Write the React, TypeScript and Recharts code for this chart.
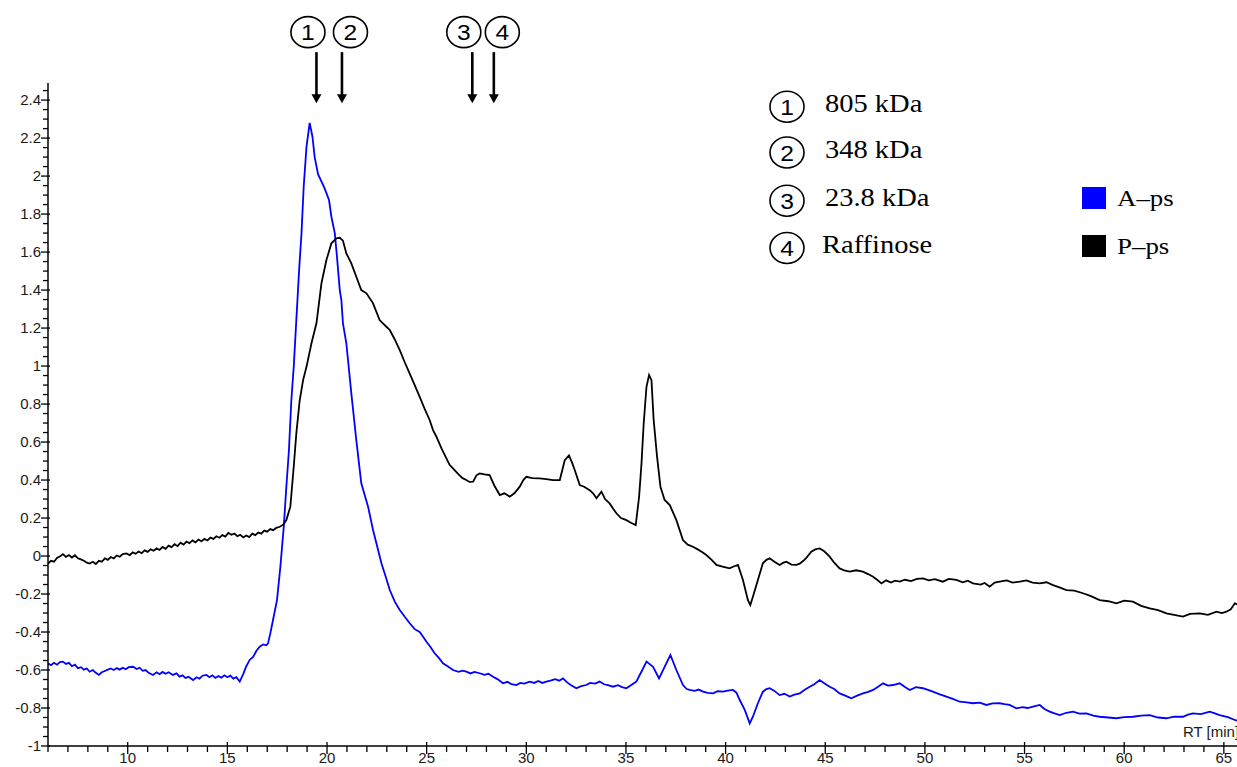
import React from 'react';
import { LineChart, Line, XAxis, YAxis, Legend, ReferenceDot } from 'recharts';

// ---- data (retention time [min] / signal) ----
const A_TIME = [
  6.0, 6.15, 6.3, 6.45, 6.6, 6.75, 6.9, 7.05, 7.2, 7.35, 7.5, 7.65, 7.8, 7.95, 8.09, 8.25, 8.4, 8.55, 8.7, 8.85,
  9.0, 9.15, 9.3, 9.45, 9.6, 9.75, 9.9, 10.05, 10.27, 10.45, 10.6, 10.75, 10.9, 11.05, 11.27, 11.45, 11.6, 11.75, 11.9, 12.05,
  12.27, 12.45, 12.6, 12.75, 12.9, 13.05, 13.28, 13.45, 13.6, 13.75, 13.95, 14.1, 14.25, 14.4, 14.55, 14.7, 14.85, 15.0, 15.15, 15.3,
  15.45, 15.62, 15.8, 15.95, 16.12, 16.3, 16.45, 16.62, 16.8, 16.95, 17.04, 17.15, 17.29, 17.49, 17.66, 17.83, 17.96, 18.09, 18.21, 18.33,
  18.46, 18.6, 18.72, 18.83, 18.97, 19.13, 19.27, 19.38, 19.55, 19.88, 20.1, 20.22, 20.39, 20.5, 20.64, 20.72, 20.8, 20.97, 21.22, 21.47,
  21.72, 22.06, 22.31, 22.73, 22.95, 23.15, 23.4, 23.65, 23.9, 24.15, 24.4, 24.65, 24.82, 24.99, 25.2, 25.4, 25.6, 25.82, 26.05, 26.32,
  26.6, 26.8, 26.99, 27.2, 27.4, 27.66, 27.9, 28.1, 28.33, 28.55, 28.83, 29.05, 29.25, 29.5, 29.7, 29.9, 30.17, 30.4, 30.6, 30.8,
  31.01, 31.25, 31.45, 31.65, 31.84, 32.05, 32.25, 32.51, 32.75, 33.01, 33.2, 33.45, 33.68, 33.9, 34.1, 34.35, 34.6, 34.8, 35.02, 35.25,
  35.52, 35.82, 36.03, 36.36, 36.66, 36.94, 37.23, 37.53, 37.86, 38.05, 38.2, 38.45, 38.65, 38.87, 39.1, 39.37, 39.6, 39.87, 40.1, 40.37,
  40.55, 40.71, 40.96, 41.21, 41.37, 41.62, 41.87, 42.05, 42.21, 42.45, 42.71, 42.95, 43.22, 43.45, 43.72, 43.95, 44.22, 44.45, 44.72, 44.95,
  45.22, 45.45, 45.72, 46.0, 46.31, 46.6, 46.89, 47.15, 47.4, 47.65, 47.9, 48.15, 48.4, 48.73, 49.0, 49.24, 49.55, 49.9, 50.15, 50.4,
  50.75, 51.08, 51.4, 51.75, 52.1, 52.41, 52.75, 53.08, 53.4, 53.75, 54.0, 54.25, 54.59, 54.9, 55.15, 55.43, 55.76, 56.0, 56.26, 56.5,
  56.77, 57.1, 57.43, 57.75, 58.1, 58.45, 58.77, 59.2, 59.61, 60.0, 60.44, 60.85, 61.28, 61.7, 62.12, 62.5, 62.95, 63.2, 63.45, 63.85,
  64.29, 64.55, 64.79, 65.2, 65.55, 65.8,
];
const A_VALUE = [
  -0.565, -0.575, -0.562, -0.572, -0.558, -0.556, -0.568, -0.562, -0.58, -0.572, -0.59, -0.585, -0.598, -0.592, -0.609, -0.6, -0.615, -0.626, -0.612, -0.605,
  -0.598, -0.592, -0.6, -0.59, -0.598, -0.588, -0.596, -0.585, -0.583, -0.595, -0.588, -0.604, -0.6, -0.615, -0.626, -0.612, -0.622, -0.61, -0.62, -0.612,
  -0.626, -0.618, -0.635, -0.628, -0.642, -0.636, -0.653, -0.638, -0.645, -0.63, -0.626, -0.638, -0.628, -0.642, -0.632, -0.64, -0.628, -0.638, -0.63, -0.645,
  -0.638, -0.661, -0.62, -0.58, -0.547, -0.53, -0.5, -0.477, -0.465, -0.47, -0.46, -0.41, -0.337, -0.232, -0.056, 0.154, 0.365, 0.558, 0.82, 0.996,
  1.242, 1.505, 1.7, 1.944, 2.154, 2.28, 2.207, 2.1, 2.01, 1.935, 1.874, 1.786, 1.7, 1.575, 1.4, 1.347, 1.225, 1.12, 0.856, 0.61,
  0.383, 0.26, 0.137, -0.038, -0.11, -0.179, -0.24, -0.284, -0.32, -0.354, -0.385, -0.4, -0.425, -0.451, -0.48, -0.512, -0.535, -0.565, -0.58, -0.6,
  -0.61, -0.603, -0.609, -0.618, -0.61, -0.617, -0.625, -0.62, -0.635, -0.648, -0.67, -0.662, -0.675, -0.679, -0.668, -0.672, -0.661, -0.668, -0.658, -0.668,
  -0.661, -0.655, -0.648, -0.656, -0.644, -0.665, -0.68, -0.696, -0.685, -0.679, -0.668, -0.672, -0.661, -0.675, -0.68, -0.688, -0.68, -0.69, -0.696, -0.68,
  -0.661, -0.6, -0.556, -0.583, -0.644, -0.583, -0.521, -0.6, -0.679, -0.7, -0.705, -0.71, -0.703, -0.714, -0.72, -0.723, -0.712, -0.714, -0.708, -0.705,
  -0.72, -0.758, -0.81, -0.881, -0.846, -0.775, -0.714, -0.7, -0.696, -0.71, -0.732, -0.725, -0.74, -0.73, -0.723, -0.705, -0.688, -0.675, -0.653, -0.67,
  -0.688, -0.7, -0.723, -0.735, -0.749, -0.735, -0.723, -0.715, -0.705, -0.688, -0.67, -0.682, -0.679, -0.67, -0.69, -0.705, -0.69, -0.696, -0.705, -0.714,
  -0.728, -0.74, -0.752, -0.767, -0.77, -0.775, -0.772, -0.784, -0.776, -0.775, -0.78, -0.784, -0.802, -0.795, -0.8, -0.793, -0.784, -0.805, -0.819, -0.828,
  -0.837, -0.825, -0.819, -0.83, -0.828, -0.84, -0.846, -0.85, -0.854, -0.848, -0.846, -0.84, -0.837, -0.85, -0.854, -0.845, -0.846, -0.835, -0.828, -0.832,
  -0.819, -0.828, -0.837, -0.848, -0.863, -0.87,
];

const P_TIME = [
  6.0, 6.15, 6.3, 6.45, 6.59, 6.75, 6.9, 7.05, 7.2, 7.35, 7.5, 7.65, 7.8, 7.95, 8.09, 8.25, 8.4, 8.55, 8.7, 8.85,
  9.0, 9.15, 9.3, 9.45, 9.6, 9.75, 9.93, 10.1, 10.25, 10.4, 10.55, 10.7, 10.85, 11.0, 11.15, 11.3, 11.45, 11.6, 11.75, 11.9,
  12.05, 12.2, 12.35, 12.5, 12.65, 12.8, 12.95, 13.1, 13.25, 13.4, 13.55, 13.7, 13.85, 14.0, 14.15, 14.3, 14.45, 14.6, 14.75, 14.9,
  15.05, 15.2, 15.35, 15.5, 15.65, 15.8, 15.95, 16.1, 16.25, 16.4, 16.55, 16.7, 16.85, 17.0, 17.15, 17.3, 17.45, 17.63, 17.8, 17.96,
  18.16, 18.33, 18.46, 18.63, 18.8, 18.97, 19.22, 19.47, 19.72, 19.97, 20.22, 20.47, 20.64, 20.8, 20.97, 21.22, 21.47, 21.72, 21.98, 22.31,
  22.64, 22.98, 23.15, 23.4, 23.65, 23.9, 24.15, 24.4, 24.65, 24.9, 25.15, 25.32, 25.49, 25.75, 25.99, 26.15, 26.32, 26.6, 26.8, 26.99,
  27.15, 27.33, 27.5, 27.66, 27.9, 28.16, 28.4, 28.67, 28.9, 29.17, 29.4, 29.67, 29.85, 30.0, 30.3, 30.67, 31.0, 31.34, 31.68, 31.8,
  31.93, 32.14, 32.3, 32.43, 32.68, 32.9, 33.18, 33.35, 33.52, 33.77, 33.95, 34.18, 34.35, 34.52, 34.75, 35.02, 35.25, 35.49, 35.66, 35.78,
  35.89, 36.03, 36.16, 36.28, 36.39, 36.56, 36.73, 36.94, 37.2, 37.53, 37.86, 38.1, 38.36, 38.6, 38.8, 39.03, 39.3, 39.54, 39.8, 40.0,
  40.2, 40.4, 40.62, 40.87, 41.12, 41.24, 41.37, 41.62, 41.87, 42.05, 42.21, 42.45, 42.71, 42.9, 43.05, 43.3, 43.55, 43.72, 43.9, 44.05,
  44.3, 44.5, 44.72, 44.95, 45.22, 45.45, 45.72, 45.95, 46.23, 46.55, 46.89, 47.15, 47.4, 47.6, 47.82, 48.05, 48.3, 48.5, 48.73, 49.0,
  49.3, 49.6, 49.9, 50.2, 50.5, 50.9, 51.2, 51.58, 51.9, 52.15, 52.41, 52.8, 53.0, 53.25, 53.5, 53.75, 54.1, 54.4, 54.76, 55.1,
  55.4, 55.76, 56.1, 56.43, 56.75, 57.1, 57.5, 57.93, 58.3, 58.77, 59.2, 59.61, 60.0, 60.44, 60.85, 61.28, 61.7, 62.12, 62.5, 62.95,
  63.3, 63.79, 64.2, 64.63, 64.9, 65.13, 65.35, 65.55, 65.8,
];
const P_VALUE = [
  -0.04, -0.025, -0.03, -0.01, -0.003, 0.01, -0.005, 0.005, -0.008, 0.004, -0.012, -0.018, -0.025, -0.035, -0.04, -0.03, -0.042, -0.025, -0.03, -0.012,
  -0.02, -0.005, -0.012, 0.003, -0.004, 0.01, 0.014, 0.005, 0.02, 0.012, 0.024, 0.015, 0.03, 0.022, 0.035, 0.028, 0.04, 0.032, 0.048, 0.038,
  0.055, 0.047, 0.062, 0.052, 0.07, 0.06, 0.076, 0.068, 0.082, 0.072, 0.086, 0.078, 0.09, 0.082, 0.097, 0.09, 0.104, 0.096, 0.11, 0.102,
  0.122, 0.112, 0.118, 0.104, 0.112, 0.098, 0.108, 0.1, 0.118, 0.11, 0.124, 0.118, 0.134, 0.128, 0.142, 0.136, 0.148, 0.154, 0.165, 0.189,
  0.26, 0.47, 0.646, 0.82, 0.926, 0.996, 1.12, 1.225, 1.435, 1.558, 1.646, 1.672, 1.675, 1.66, 1.593, 1.54, 1.47, 1.4, 1.383, 1.33,
  1.242, 1.207, 1.19, 1.14, 1.084, 1.02, 0.96, 0.9, 0.838, 0.775, 0.716, 0.663, 0.628, 0.565, 0.514, 0.48, 0.461, 0.43, 0.41, 0.4,
  0.39, 0.391, 0.425, 0.435, 0.43, 0.426, 0.37, 0.321, 0.33, 0.312, 0.33, 0.365, 0.4, 0.417, 0.41, 0.409, 0.405, 0.4, 0.4, 0.45,
  0.505, 0.53, 0.49, 0.453, 0.374, 0.365, 0.347, 0.33, 0.304, 0.339, 0.3, 0.277, 0.25, 0.225, 0.2, 0.189, 0.175, 0.163, 0.312, 0.488,
  0.698, 0.891, 0.953, 0.926, 0.716, 0.523, 0.365, 0.295, 0.268, 0.189, 0.084, 0.06, 0.049, 0.035, 0.022, 0.005, -0.02, -0.047, -0.055, -0.06,
  -0.065, -0.055, -0.047, -0.126, -0.232, -0.258, -0.214, -0.126, -0.038, -0.02, -0.012, -0.03, -0.047, -0.035, -0.03, -0.045, -0.047, -0.04, -0.025, -0.01,
  0.023, 0.035, 0.04, 0.025, -0.003, -0.035, -0.065, -0.075, -0.082, -0.075, -0.082, -0.095, -0.109, -0.125, -0.144, -0.128, -0.14, -0.13, -0.135, -0.125,
  -0.132, -0.12, -0.118, -0.128, -0.122, -0.135, -0.12, -0.126, -0.138, -0.13, -0.144, -0.15, -0.142, -0.161, -0.14, -0.135, -0.128, -0.14, -0.135, -0.128,
  -0.14, -0.144, -0.138, -0.153, -0.165, -0.179, -0.182, -0.196, -0.21, -0.232, -0.238, -0.249, -0.235, -0.24, -0.262, -0.275, -0.285, -0.302, -0.31, -0.319,
  -0.305, -0.302, -0.31, -0.293, -0.3, -0.293, -0.28, -0.249, -0.26,
];

// standards (marker arrows) and their labels
const STD_TIME = [19.47, 20.75, 27.29, 28.37];
const STD_NUM = ['1', '2', '3', '4'];
const STD_LABEL = ['805 kDa', '348 kDa', '23.8 kDa', 'Raffinose'];
const STD_CIRCLE_SIDE = [-1, 1, -1, 1];

const SERIES_NAMES = ['A\u2013ps', 'P\u2013ps'];
const SERIES_COLORS = ['#0000ff', '#000000'];

const X_MAJOR = [10, 15, 20, 25, 30, 35, 40, 45, 50, 55, 60, 65];
const Y_MAJOR = [-1, -0.8, -0.6, -0.4, -0.2, 0, 0.2, 0.4, 0.6, 0.8, 1, 1.2, 1.4, 1.6, 1.8, 2, 2.2, 2.4];

const X_DOMAIN: [number, number] = [6, 65.66];
const Y_DOMAIN: [number, number] = [-1, 2.49];

const aData = A_TIME.map((t, i) => ({ t, v: A_VALUE[i] }));
const pData = P_TIME.map((t, i) => ({ t, v: P_VALUE[i] }));

const xTicks: number[] = [];
for (let t = 6; t <= 65; t += 1) xTicks.push(t);
const yTicks: number[] = [];
for (let i = 0; i <= 69; i++) yTicks.push(Math.round((-1 + i * 0.05) * 100) / 100);

const isXMajor = (v: number) => X_MAJOR.some((m) => Math.abs(m - v) < 1e-6);
const isYMajor = (v: number) => Y_MAJOR.some((m) => Math.abs(m - v) < 1e-6);

const SANS = '"Liberation Sans", Arial, sans-serif';
const SERIF = '"Liberation Serif", "Times New Roman", serif';

const XTick = (props: any) => {
  const { x, y, payload } = props;
  const major = isXMajor(payload.value);
  return (
    <g>
      <line x1={x} x2={x} y1={major ? y - 4 : y} y2={major ? y + 8 : y + 6} stroke="#000" strokeWidth={1.3} />
      {major && (
        <text x={x} y={y + 17} textAnchor="middle" fontSize={15} fontFamily={SANS} fill="#1a1a1a">
          {payload.value}
        </text>
      )}
    </g>
  );
};

const YTick = (props: any) => {
  const { x, y, payload } = props;
  const major = isYMajor(payload.value);
  return (
    <g>
      <line x1={major ? x - 7 : x - 5} x2={major ? x + 2 : x} y1={y} y2={y} stroke="#000" strokeWidth={1.3} />
      {major && (
        <text x={x - 7} y={y + 5} textAnchor="end" fontSize={15} fontFamily={SANS} fill="#1a1a1a">
          {String(payload.value)}
        </text>
      )}
    </g>
  );
};

const makeMarker = (idx: number) => (props: any) => {
  const { cx, cy } = props;
  const ccx = cx + STD_CIRCLE_SIDE[idx] * 8.5;
  const ccy = cy - 71;
  return (
    <g>
      <ellipse cx={ccx} cy={ccy} rx={17} ry={15.5} fill="#fff" stroke="#000" strokeWidth={1.6} />
      <text x={0} y={0} transform={`translate(${ccx},${ccy + 8}) scale(1.12,1)`} textAnchor="middle" fontSize={22} fontFamily={SANS} fill="#000">
        {STD_NUM[idx]}
      </text>
      <line x1={cx} x2={cx} y1={cy - 51} y2={cy - 8} stroke="#000" strokeWidth={2.6} />
      <path d={`M${cx - 5},${cy - 9} L${cx + 5},${cy - 9} L${cx},${cy} Z`} fill="#000" />
    </g>
  );
};

const LegendContent = () => (
  <div style={{ position: 'relative', width: 120, height: 80 }}>
    {SERIES_NAMES.map((name, i) => (
      <div key={name} style={{ position: 'absolute', left: 0, top: i * 47.5, height: 22, display: 'flex', alignItems: 'center' }}>
        <div style={{ width: 24, height: 22, background: SERIES_COLORS[i] }} />
        <span
          style={{
            marginLeft: 11,
            fontFamily: SERIF,
            fontSize: 24,
            color: '#000',
            display: 'inline-block',
            transform: 'scale(1.12,1)',
            transformOrigin: 'left center',
            lineHeight: '22px',
            whiteSpace: 'nowrap',
          }}
        >
          {name}
        </span>
      </div>
    ))}
  </div>
);

const ROW_Y = [106.7, 152.5, 200.7, 248];

export default function App() {
  return (
    <div style={{ position: 'absolute', left: 0, top: 0, width: 1237, height: 767, overflow: 'hidden', background: '#fff' }}>
      <LineChart width={1237} height={767} margin={{ top: 83, right: 0, bottom: 0, left: 0 }}>
        <XAxis
          dataKey="t"
          type="number"
          domain={X_DOMAIN}
          allowDataOverflow
          ticks={xTicks}
          interval={0}
          tickSize={0}
          tickMargin={0}
          height={21}
          stroke="#000"
          strokeWidth={1.5}
          tick={<XTick />}
        />
        <YAxis
          type="number"
          domain={Y_DOMAIN}
          allowDataOverflow
          ticks={yTicks}
          interval={0}
          tickSize={0}
          tickMargin={0}
          width={48}
          stroke="#000"
          strokeWidth={1.5}
          tick={<YTick />}
        />
        <Line data={aData} dataKey="v" name={SERIES_NAMES[0]} type="linear" stroke={SERIES_COLORS[0]} strokeWidth={1.8} dot={false} isAnimationActive={false} />
        <Line data={pData} dataKey="v" name={SERIES_NAMES[1]} type="linear" stroke={SERIES_COLORS[1]} strokeWidth={1.8} dot={false} isAnimationActive={false} />
        {STD_TIME.map((t, i) => (
          <ReferenceDot key={i} x={t} y={2.384} r={0} shape={makeMarker(i)} ifOverflow="visible" />
        ))}
        <Legend
          layout="horizontal"
          verticalAlign="middle"
          align="center"
          content={<LegendContent />}
          wrapperStyle={{ position: 'absolute', left: 1082, top: 187, width: 120, height: 80 }}
        />
      </LineChart>
      <svg width={1237} height={767} style={{ position: 'absolute', left: 0, top: 0, pointerEvents: 'none' }}>
        {STD_LABEL.map((lab, i) => (
          <g key={lab}>
            <ellipse cx={787} cy={ROW_Y[i]} rx={17} ry={15.5} fill="none" stroke="#000" strokeWidth={1.6} />
            <text transform={`translate(787,${ROW_Y[i] + 8}) scale(1.12,1)`} textAnchor="middle" fontSize={22} fontFamily={SANS}>
              {STD_NUM[i]}
            </text>
            <text transform={`translate(${i === 3 ? 822 : 825},${ROW_Y[i] + 5}) scale(1.14,1)`} fontSize={25} fontFamily={SERIF} fill="#000">
              {lab}
            </text>
          </g>
        ))}
        <text x={1183} y={737} fontSize={15} fontFamily={SANS} fill="#1a1a1a">RT [min]</text>
      </svg>
    </div>
  );
}
